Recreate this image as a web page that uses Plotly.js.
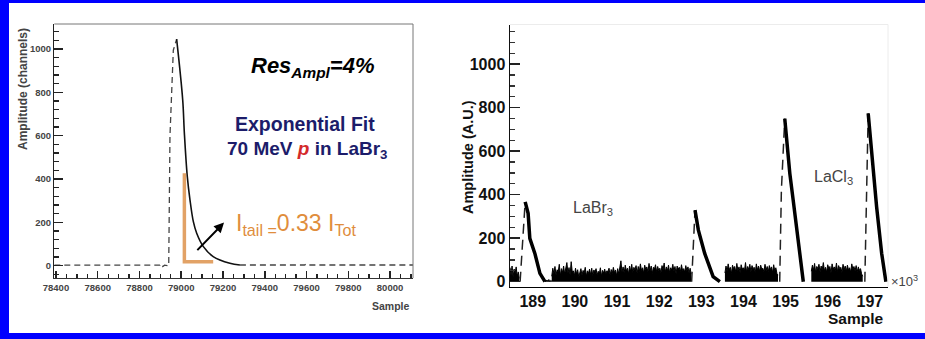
<!DOCTYPE html>
<html>
<head>
<meta charset="utf-8">
<script src="https://cdn.plot.ly/plotly-3.0.1.min.js"></script>
<style>
html,body{margin:0;padding:0;background:#fff;}
#chart{width:925px;height:339px;}
</style>
</head>
<body>
<div id="chart"></div>
<script>
// ---------- Left panel data (sample number vs amplitude in channels) ----------
const leftRawX = [78392, 78898, 78905, 78912, 78920, 78940, 78946, 78954, 78962, 78978, null, 79281, 79590, 79600, 79610, 80110];
const leftRawY = [2, 2, 9, -4, 2, 0, 600, 850, 995, 1046, null, 3, 3, 8, 3, 3];
const fitX = [78978, 79007, 79015, 79029, 79042, 79058, 79074, 79106, 79153, 79233, 79281];
const fitY = [1046, 765, 611, 411, 303, 203, 150, 88, 42, 11, 3];
const tailBoxX = [79015, 79015, 79153];
const tailBoxY = [427, 18, 18];
const arrowFrom = [79070, 65];
const arrowTo = [79205, 199];

// ---------- Right panel data (sample x10^3 vs amplitude A.U.) ----------
// noise segments: [start, end] and envelope values
const noiseA = {start: 188.46, end: 188.68, y: [65,30,72,20,58,40,68,25,45,15]};
const noiseGap = {start: 189.29, end: 189.45, y: [4, 0, 8, 2, 10, 0, 6, 3]};
const noiseB = {start: 189.45, end: 192.76, y: [
  25,62,38,70,30,55,45,80,28,60,42,72,35,58,88,40,65,30,92,45,
  50,28,62,35,55,22,48,60,30,52,40,66,25,50,38,58,32,62,28,54,
  44,60,30,48,36,64,26,52,40,58,34,50,46,62,30,56,38,66,42,54,
  28,60,36,70,96,44,68,40,76,50,62,36,72,48,80,42,66,54,74,38,
  70,46,82,52,64,40,76,56,68,44,84,50,72,38,66,58,78,46,70,52,
  62,40,74,56,86,44,68,50,76,42,64,54,80,48,70,36,72,58,66,46,
  78,52,60,44,74,50,68,40,62,35]};
const noiseC = {start: 193.56, end: 194.82, y: [
  40,72,48,82,55,66,38,76,60,70,45,84,52,68,42,78,58,64,50,88,
  44,70,56,80,46,74,60,66,40,82,54,72,48,76,58,62,44,80,52,70,
  46,74,56,68,42,78,50,64,38,30]};
const noiseD = {start: 195.61, end: 196.83, y: [
  48,76,54,84,42,70,60,80,46,72,56,88,50,66,44,78,62,70,40,82,
  58,68,52,86,46,74,60,66,42,80,56,72,48,76,54,64,44,82,58,70,
  50,74,46,68,52,60,36,25]};
// pulses: rising edge (dashed) and decay (thick)
const riseX = [188.70, 188.76, 188.82, null, 192.77, 192.81, 192.85, null, 194.86, 194.90, 194.98, null, 196.88, 196.92, 196.96];
const riseY = [0, 200, 367, null, 0, 170, 329, null, 0, 420, 750, null, 0, 430, 774];
const decayX = [188.82, 188.89, 188.93, 189.05, 189.17, 189.29, null, 192.85, 192.93, 193.08, 193.28, 193.44, null, 194.98, 195.10, 195.18, 195.30, 195.42, null, 196.96, 197.08, 197.16, 197.28, 197.38];
const decayY = [367, 314, 199, 130, 38, 0, null, 329, 237, 130, 23, 0, null, 750, 498, 375, 192, 0, null, 774, 498, 344, 130, 0];

// ---------- helpers ----------
const W = 925, H = 339;
const px = v => v / W;
const py = v => 1 - v / H;
function grid(seg) {
  const n = seg.y.length;
  return seg.y.map((_, i) => seg.start + (seg.end - seg.start) * i / (n - 1));
}
const FONT = 'Liberation Sans, Arial, sans-serif';

const traces = [];
// left
traces.push({x: leftRawX, y: leftRawY, xaxis: 'x', yaxis: 'y', mode: 'lines', connectgaps: false,
  line: {color: '#444', width: 1.3, dash: '6px,4px'}, hoverinfo: 'skip'});
traces.push({x: fitX, y: fitY, xaxis: 'x', yaxis: 'y', mode: 'lines',
  line: {color: '#111', width: 1.6, shape: 'spline'}, hoverinfo: 'skip'});
traces.push({x: tailBoxX, y: tailBoxY, xaxis: 'x', yaxis: 'y', mode: 'lines',
  line: {color: '#e2a266', width: 3.5}, hoverinfo: 'skip'});
// right noise
[noiseA, noiseGap, noiseB, noiseC, noiseD].forEach(seg => {
  traces.push({x: grid(seg), y: seg.y, xaxis: 'x2', yaxis: 'y2', mode: 'lines', fill: 'tozeroy',
    fillcolor: '#000', line: {color: '#000', width: 1}, hoverinfo: 'skip'});
});
traces.push({x: riseX, y: riseY, xaxis: 'x2', yaxis: 'y2', mode: 'lines', connectgaps: false,
  line: {color: '#222', width: 1.5, dash: '10px,6px'}, hoverinfo: 'skip'});
traces.push({x: decayX, y: decayY, xaxis: 'x2', yaxis: 'y2', mode: 'lines', connectgaps: false,
  line: {color: '#000', width: 3.5}, hoverinfo: 'skip'});

const layout = {
  width: W, height: H,
  margin: {l: 0, r: 0, t: 0, b: 0},
  paper_bgcolor: '#fff', plot_bgcolor: '#fff',
  showlegend: false,
  font: {family: FONT},
  xaxis: {
    domain: [px(54.3), px(413)], anchor: 'y', range: [78392, 80110],
    tickmode: 'linear', tick0: 78400, dtick: 200, tickformat: 'd',
    ticks: 'inside', ticklen: 7, tickwidth: 1.5, tickcolor: '#222',
    minor: {dtick: 50, tick0: 78400, ticks: 'inside', ticklen: 4, tickwidth: 1.3, tickcolor: '#222', showgrid: false},
    showline: true, linecolor: '#333', linewidth: 1.2,
    showgrid: false, zeroline: false,
    tickfont: {size: 9.5, color: '#444', weight: 'bold'}
  },
  yaxis: {
    domain: [py(278), py(24)], anchor: 'x', range: [-57, 1116],
    tickmode: 'linear', tick0: 0, dtick: 200, tickformat: 'd',
    ticks: 'inside', ticklen: 9, tickwidth: 1.5, tickcolor: '#222',
    minor: {dtick: 40, tick0: 0, ticks: 'inside', ticklen: 5, tickwidth: 1.3, tickcolor: '#222', showgrid: false},
    showline: true, linecolor: '#222', linewidth: 1.3,
    showgrid: false, zeroline: false,
    tickfont: {size: 9.5, color: '#444', weight: 'bold'}
  },
  xaxis2: {
    domain: [px(510), px(888)], anchor: 'y2', range: [188.46, 197.43],
    tickmode: 'linear', tick0: 189, dtick: 1, tickformat: 'd',
    ticks: '', showline: true, linecolor: '#000', linewidth: 1,
    showgrid: false, zeroline: false,
    tickfont: {size: 16, color: '#111', weight: 'bold'}
  },
  yaxis2: {
    domain: [py(286.7), py(25)], anchor: 'x2', range: [-23, 1180],
    tickmode: 'linear', tick0: 0, dtick: 200, tickformat: 'd',
    ticks: 'inside', ticklen: 10, tickwidth: 1.5, tickcolor: '#222',
    minor: {dtick: 50, tick0: 0, ticks: 'inside', ticklen: 5, tickwidth: 1.2, tickcolor: '#333', showgrid: false},
    showline: true, linecolor: '#111', linewidth: 1.5,
    showgrid: false, zeroline: false,
    tickfont: {size: 16, color: '#111', weight: 'bold'}
  },
  shapes: [
    // frame of left panel (top and right)
    {type: 'line', xref: 'paper', yref: 'paper', x0: px(54.3), x1: px(413), y0: py(24), y1: py(24), line: {color: '#777', width: 1}},
    {type: 'line', xref: 'paper', yref: 'paper', x0: px(413), x1: px(413), y0: py(24), y1: py(278), line: {color: '#777', width: 1}},
    // faint frame of right panel
    {type: 'line', xref: 'paper', yref: 'paper', x0: px(510), x1: px(888), y0: py(24.5), y1: py(24.5), line: {color: '#ececec', width: 1}},
    {type: 'line', xref: 'paper', yref: 'paper', x0: px(888), x1: px(888), y0: py(24.5), y1: py(286.7), line: {color: '#ececec', width: 1}},
    // blue picture border
    {type: 'rect', xref: 'paper', yref: 'paper', x0: 0, x1: 1, y0: py(3), y1: 1, fillcolor: '#0000ff', line: {width: 0}},
    {type: 'rect', xref: 'paper', yref: 'paper', x0: 0, x1: px(9), y0: 0, y1: 1, fillcolor: '#0000ff', line: {width: 0}},
    {type: 'rect', xref: 'paper', yref: 'paper', x0: 0, x1: 1, y0: 0, y1: py(333), fillcolor: '#0000ff', line: {width: 0}}
  ],
  annotations: [
    // left axis titles
    {text: 'Amplitude (channels)', xref: 'paper', yref: 'paper', x: px(23), y: py(26), xanchor: 'center', yanchor: 'top',
      textangle: -90, showarrow: false, font: {size: 12, color: '#444', weight: 'bold'}},
    {text: 'Sample', xref: 'paper', yref: 'paper', x: px(412), y: py(306), xanchor: 'right', yanchor: 'middle',
      showarrow: false, font: {size: 10.5, color: '#444', weight: 'bold'}},
    // left in-plot texts
    {text: '<b><i>Res<sub>Ampl</sub>=4%</i></b>', xref: 'paper', yref: 'paper', x: px(313), y: py(67), xanchor: 'center', yanchor: 'middle',
      showarrow: false, font: {size: 22, color: '#000'}},
    {text: '<b>Exponential Fit</b>', xref: 'paper', yref: 'paper', x: px(305), y: py(124), xanchor: 'center', yanchor: 'middle',
      showarrow: false, font: {size: 19.5, color: '#1c1c6a'}},
    {text: "<b>70 MeV <i><span style='color:#d42a2a'>p</span></i> in LaBr<sub>3</sub></b>", xref: 'paper', yref: 'paper', x: px(307), y: py(150), xanchor: 'center', yanchor: 'middle',
      showarrow: false, font: {size: 19, color: '#1c1c6a'}},
    {text: 'I<sub>tail =</sub>0.33 I<sub>Tot</sub>', xref: 'paper', yref: 'paper', x: px(296), y: py(224), xanchor: 'center', yanchor: 'middle',
      showarrow: false, font: {size: 23, color: '#e08d3c'}},
    // arrow
    {x: arrowTo[0], y: arrowTo[1], ax: arrowFrom[0], ay: arrowFrom[1], xref: 'x', yref: 'y', axref: 'x', ayref: 'y',
      showarrow: true, arrowhead: 2, arrowsize: 1, arrowwidth: 2, arrowcolor: '#000', text: ''},
    // right axis titles
    {text: 'Amplitude (A.U.)', xref: 'paper', yref: 'paper', x: px(468), y: py(157), xanchor: 'center', yanchor: 'middle',
      textangle: -90, showarrow: false, font: {size: 14.5, color: '#111', weight: 'bold'}},
    {text: 'Sample', xref: 'paper', yref: 'paper', x: px(886), y: py(318), xanchor: 'right', yanchor: 'middle',
      showarrow: false, font: {size: 15.5, color: '#111', weight: 'bold'}},
    {text: '×10<sup>3</sup>', xref: 'paper', yref: 'paper', x: px(889), y: py(281), xanchor: 'left', yanchor: 'middle',
      showarrow: false, font: {size: 13, color: '#444'}},
    {text: 'LaBr<sub>3</sub>', xref: 'paper', yref: 'paper', x: px(593), y: py(208), xanchor: 'center', yanchor: 'middle',
      showarrow: false, font: {size: 16, color: '#444'}},
    {text: 'LaCl<sub>3</sub>', xref: 'paper', yref: 'paper', x: px(833), y: py(177), xanchor: 'center', yanchor: 'middle',
      showarrow: false, font: {size: 16, color: '#444'}}
  ]
};

Plotly.newPlot('chart', traces, layout, {staticPlot: true, displayModeBar: false});
</script>
</body>
</html>
